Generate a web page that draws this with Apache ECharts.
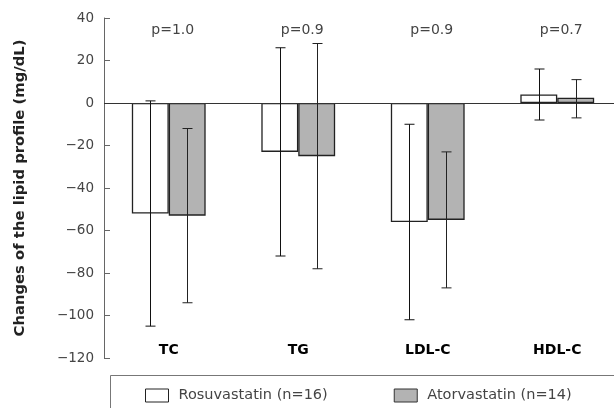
<!DOCTYPE html>
<html>
<head>
<meta charset="utf-8">
<script src="https://cdn.jsdelivr.net/npm/echarts@6/dist/echarts.min.js"></script>
<style>html,body{margin:0;padding:0;background:#fff;}#chart{width:614px;height:408px;}</style>
</head>
<body>
<div id="chart"></div>
<script>
const categories = ['TC', 'TG', 'LDL-C', 'HDL-C'];
const rosuMean = [-52, -23, -56, 4];
const rosuUpper = [1, 26, -10, 16];
const rosuLower = [-105, -72, -102, -8];
const atorMean = [-53, -25, -55, 2.5];
const atorUpper = [-12, 28, -23, 11];
const atorLower = [-94, -78, -87, -7];
const pValues = ['p=1.0', 'p=0.9', 'p=0.9', 'p=0.7'];
const seriesNames = ['Rosuvastatin (n=16)', 'Atorvastatin (n=14)'];
const yMin = -120, yMax = 40, yStep = 20;

const FONT = 'DejaVu Sans';
const BAR_FRAC = 0.285;
const chart = echarts.init(document.getElementById('chart'), null, {renderer: 'canvas'});

function errorSeries(upper, lower, sign, color) {
  return {
    type: 'custom',
    z: 5,
    silent: true,
    data: categories.map((c, i) => [i, upper[i], lower[i]]),
    encode: {x: 0, y: [1, 2]},
    renderItem: function (params, api) {
      const i = api.value(0);
      const hi = api.coord([i, api.value(1)]);
      const lo = api.coord([i, api.value(2)]);
      const band = api.size([1, 0])[0];
      const x = Math.round(hi[0] + sign * band * BAR_FRAC / 2) + 0.5;
      const cap = 5;
      const st = {stroke: color, lineWidth: 1};
      return {
        type: 'group',
        children: [
          {type: 'line', shape: {x1: x, y1: hi[1], x2: x, y2: lo[1]}, style: st},
          {type: 'line', shape: {x1: x - cap, y1: hi[1], x2: x + cap, y2: hi[1]}, style: st},
          {type: 'line', shape: {x1: x - cap, y1: lo[1], x2: x + cap, y2: lo[1]}, style: st}
        ]
      };
    }
  };
}

const option = {
  animation: false,
  backgroundColor: '#fff',
  grid: {left: 104, top: 18, width: 518, height: 340, containLabel: false, outerBoundsMode: 'none'},
  xAxis: {
    type: 'category',
    data: categories,
    axisLine: {show: false},
    axisTick: {show: false},
    axisLabel: {inside: true, margin: 1, color: '#000', fontFamily: FONT, fontSize: 14, fontWeight: 'bold'},
    splitLine: {show: false}
  },
  yAxis: {
    type: 'value',
    min: yMin, max: yMax, interval: yStep,
    name: 'Changes of the lipid profile (mg/dL)',
    nameLocation: 'middle',
    nameGap: 76,
    nameTextStyle: {fontFamily: FONT, fontWeight: 'bold', fontSize: 14.8, color: '#222'},
    axisLine: {show: true, lineStyle: {color: '#666', width: 1}},
    axisTick: {show: true, inside: true, length: 6, lineStyle: {color: '#666'}},
    axisLabel: {
      margin: 10, color: '#444', fontFamily: FONT, fontSize: 13.5,
      formatter: v => String(v).replace('-', '\u2212')
    },
    splitLine: {show: false}
  },
  legend: {
    left: 145, top: 388, padding: 0,
    itemWidth: 23, itemHeight: 13, itemGap: 66,
    icon: 'rect',
    textStyle: {fontFamily: FONT, fontSize: 14.5, color: '#444', padding: [0, 0, 0, 5]},
    data: [
      {name: seriesNames[0], itemStyle: {color: '#fff', borderColor: '#222', borderWidth: 1}},
      {name: seriesNames[1], itemStyle: {color: '#b3b3b3', borderColor: '#333', borderWidth: 1}}
    ]
  },
  graphic: [{
    type: 'rect', silent: true,
    shape: {x: 110.5, y: 375.5, width: 600, height: 100},
    style: {fill: 'none', stroke: '#777', lineWidth: 1}
  }],
  series: [
    {
      name: seriesNames[0], type: 'bar', data: rosuMean,
      barWidth: (BAR_FRAC * 100) + '%', barGap: '0%',
      itemStyle: {color: '#fff', borderColor: '#222', borderWidth: 1.3},
      markLine: {
        silent: true, symbol: 'none', label: {show: false},
        lineStyle: {color: '#333', width: 1, type: 'solid'},
        data: [{yAxis: 0}]
      },
      z: 2
    },
    {
      name: seriesNames[1], type: 'bar', data: atorMean,
      barWidth: (BAR_FRAC * 100) + '%', barGap: '0%',
      itemStyle: {color: '#b3b3b3', borderColor: '#222', borderWidth: 1.3},
      z: 2
    },
    errorSeries(rosuUpper, rosuLower, -1, '#111'),
    errorSeries(atorUpper, atorLower, 1, '#222'),
    {
      type: 'custom', silent: true, z: 6,
      data: pValues.map((p, i) => [i, 34]),
      encode: {x: 0, y: 1},
      renderItem: function (params, api) {
        const pt = api.coord([api.value(0), api.value(1)]);
        return {
          type: 'text',
          x: pt[0] + 4, y: pt[1],
          style: {
            text: pValues[params.dataIndex],
            textAlign: 'center', textVerticalAlign: 'middle',
            fill: '#444', fontFamily: FONT, fontSize: 14
          }
        };
      }
    }
  ]
};
chart.setOption(option);
</script>
</body>
</html>
